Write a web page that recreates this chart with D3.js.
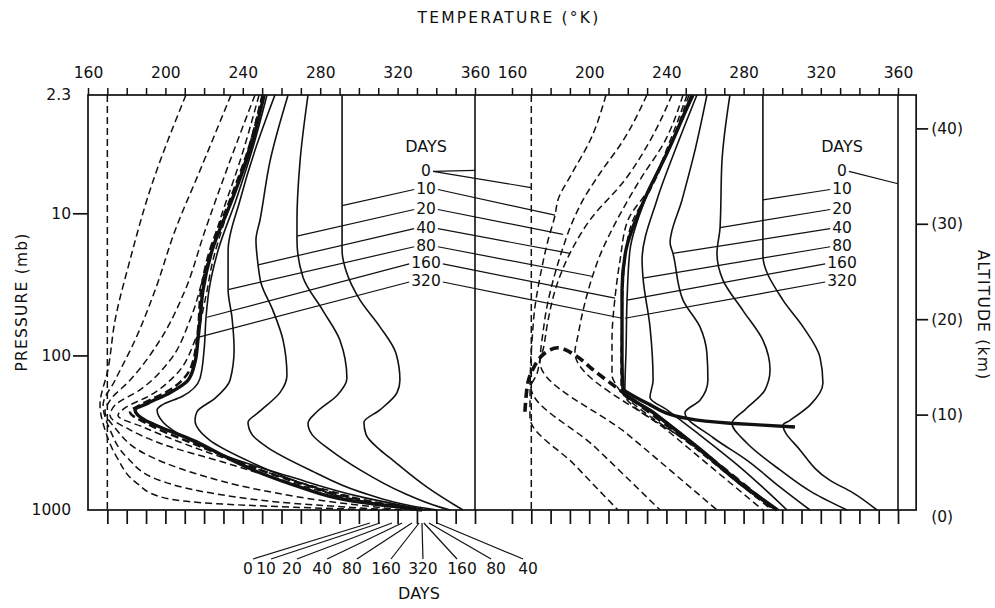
<!DOCTYPE html>
<html>
<head>
<meta charset="utf-8">
<script src="https://cdn.jsdelivr.net/npm/d3@7"></script>
<style>
  body { margin: 0; background: #fff; }
  svg text { font-family: "DejaVu Sans", sans-serif; fill: #111; }
</style>
</head>
<body>
<svg id="chart" width="995" height="608"></svg>
<script>
// Temperature profiles as [temperature (K), altitude (km)], listed from the top of the column to the ground.

// Left: pure radiative equilibrium. Warm start from 360 K isothermal.
const radWarm0 = [[360, 43.5], [360, 0]];
const radWarm10 = [[291.3,43.5],[291.3,27.2],[293.3,25.1],[300.6,22.0],[310.9,19.2],[319.2,16.4],[321.2,13.6],[319.7,12.3],[310.9,10.5],[302.6,9.2],[303.7,7.9],[310.9,6.3],[317.6,5.2],[335.2,2.4],[349.7,0.5],[353.8,0]];
const radWarm20 = [[273.7,43.5],[269.6,36.6],[268.0,30.4],[268.0,28.3],[271.1,24.4],[281.4,20.9],[290.2,17.8],[293.8,13.8],[288.7,12.0],[278.3,10.3],[273.7,9.1],[275.8,7.9],[285.1,6.3],[300.6,4.2],[322.8,1.8],[341.9,0.3],[347.1,0]];
const radWarm40 = [[263.4,43.5],[254.1,36.6],[248.9,30.4],[246.8,28.3],[247.9,25.7],[249.4,23.8],[255.6,20.9],[260.8,17.8],[262.8,14.1],[259.2,12.3],[247.9,10.2],[242.7,9.2],[244.8,7.9],[252.5,6.6],[274.7,4.2],[300.6,1.9],[328.0,0.4],[340.4,0]];
const radWarm80 = [[256.6,43.5],[246.3,37.7],[238.6,32.5],[232.4,27.2],[232.4,23.1],[234.4,20.2],[235.5,16.8],[233.4,13.6],[225.6,11.7],[216.3,10.3],[215.3,9.4],[223.0,7.3],[242.2,5.2],[276.3,2.4],[309.4,0.5],[337.3,0]];
const radWarm160 = [[252.5,43.5],[244.8,37.7],[236.5,32.5],[227.2,27.2],[222.5,23.0],[221.0,20.2],[220.0,16.8],[217.9,13.8],[208.6,11.9],[198.2,11.0],[195.7,10.5],[198.8,9.2],[210.1,7.6],[233.4,5.5],[264.4,3.5],[300.6,1.4],[334.2,0]];
const radWarm320 = [[251.0,43.5],[243.7,37.7],[234.4,32.5],[224.1,27.2],[219.4,23.0],[217.9,19.9],[216.8,17.8],[215.3,15.5],[211.7,13.6],[202.4,12.3],[191.0,11.2],[184.3,10.5],[189.5,9.4],[197.2,8.7],[214.3,7.3],[231.8,5.5],[248.9,3.9],[269.6,2.4],[295.4,1.0],[321.2,0.3],[332.6,0]];

// Left: cold start from 170 K isothermal.
const radCold0 = [[170, 43.5], [170, 0]];
const radCold10 = [[210.6,43.5],[192.0,33.5],[181.7,26.2],[174.0,19.9],[170.3,14.7],[166.2,11.0],[168.8,8.4],[175.0,5.5],[185.3,2.8],[197.2,1.4],[223.0,0.7],[265.9,0.3],[310.9,0]];
const radCold20 = [[233.9,43.5],[217.9,35.6],[205.0,29.3],[194.6,23.0],[184.3,17.8],[174.0,13.6],[167.8,11.0],[171.4,8.4],[180.2,5.5],[197.2,3.1],[223.0,1.8],[265.9,0.7],[317.6,0]];
const radCold40 = [[246.3,43.5],[233.4,36.6],[220.5,29.3],[210.1,23.0],[197.2,17.8],[181.7,13.6],[171.4,11.5],[168.8,10.3],[174.0,8.6],[188.4,6.0],[214.3,3.9],[248.9,2.1],[291.8,0.7],[322.8,0]];
const radCold80 = [[248.4,43.5],[238.6,36.6],[228.2,30.4],[220.5,25.1],[212.7,19.9],[202.4,15.7],[186.9,12.6],[174.0,11.0],[171.4,9.9],[181.7,8.4],[197.2,7.0],[231.8,4.9],[265.9,2.8],[300.6,1.0],[328.0,0]];
const radCold160 = [[249.9,43.5],[241.1,36.6],[232.4,31.4],[224.6,26.2],[220.5,22.0],[215.3,17.8],[205.0,14.1],[192.0,12.0],[179.1,10.7],[175.5,9.9],[188.4,8.7],[214.3,6.6],[248.9,4.2],[283.5,2.1],[310.9,0.7],[331.6,0]];
const radCold320 = [[250.4,43.5],[242.7,37.7],[233.4,32.5],[223.0,27.2],[218.4,23.0],[216.8,18.8],[213.7,15.2],[202.4,12.6],[186.9,11.0],[181.7,10.3],[192.0,8.9],[212.7,7.1],[238.6,5.0],[269.6,2.8],[305.7,0.9],[332.6,0]];

// Right: radiative-convective equilibrium. Warm start.
const convWarm0 = [[360, 43.5], [360, 0]];
const convWarm10 = [[290.0,43.5],[290.0,26.7],[300.4,22.0],[310.8,19.2],[319.6,16.0],[321.1,13.3],[314.4,11.0],[304.0,9.4],[300.4,8.9],[309.2,6.3],[324.8,3.1],[336.7,1.8],[349.1,0]];
const convWarm20 = [[272.9,43.5],[268.8,36.6],[267.8,29.6],[266.2,26.9],[269.3,24.1],[279.7,20.9],[290.0,17.8],[293.7,14.7],[291.1,12.6],[280.7,10.5],[274.0,9.1],[281.8,7.0],[298.9,4.2],[316.0,1.8],[333.6,0]];
const convWarm40 = [[261.0,43.5],[254.8,37.7],[248.1,32.5],[241.9,28.0],[243.4,26.9],[248.6,22.0],[257.4,19.2],[261.0,16.4],[261.5,13.6],[257.4,11.5],[249.6,10.2],[264.1,7.6],[281.8,5.2],[298.9,2.4],[314.4,0]];
const convWarm80 = [[255.8,43.5],[244.5,37.7],[235.1,32.5],[227.4,26.2],[227.9,24.3],[231.5,19.2],[233.1,13.6],[231.5,11.8],[240.3,10.5],[255.8,8.1],[278.1,4.5],[302.5,0]];
const convWarm160 = [[254.3,43.5],[240.8,37.7],[228.9,32.5],[221.1,27.2],[219.6,22.0],[219.1,16.8],[218.5,12.6],[234.1,10.2],[257.4,6.5],[278.1,3.0],[298.3,0]];
const convWarm320 = [[253.3,43.5],[241.0,37.7],[228.5,32.5],[219.0,27.2],[217.0,23.0],[217.0,20.1],[217.0,15.7],[217.5,12.6],[233.1,10.2],[255.8,6.6],[278.1,2.8],[297.3,0]];
// Tropopause of the warm-start runs
const convWarmTropopause = [[217.5,12.6],[229.9,11.2],[250.7,9.6],[272.9,9.1],[290.0,8.9],[306.6,8.7]];

// Right: cold start.
const convCold0 = [[170, 43.5], [170, 0]];
const convCold10 = [[208.7,43.5],[200.4,38.7],[191.1,35.3],[183.8,32.5],[182.3,30.9],[178.7,28.3],[174.5,24.4],[171.9,21.3],[170.4,17.8],[169.6,15.0],[169.3,9.7],[192.6,4.7],[214.9,0]];
const convCold20 = [[229.9,43.5],[217.5,38.7],[205.6,35.3],[196.8,32.5],[191.1,30.1],[186.4,27.5],[182.3,24.8],[178.1,21.3],[175.5,17.8],[173.0,14.3],[169.8,12.9],[203.0,6.6],[236.7,0]];
const convCold40 = [[242.9,43.5],[231.5,38.7],[218.5,34.6],[200.4,30.4],[190.0,26.9],[182.3,23.0],[178.7,19.9],[176.1,16.8],[174.5,15.5],[220.1,7.9],[266.2,0]];
const convCold80 = [[248.6,43.5],[239.3,38.7],[226.3,34.6],[214.4,30.4],[205.6,26.7],[201.4,24.3],[196.8,20.9],[194.2,18.3],[192.6,16.5],[241.9,8.1],[290.0,0]];
const convCold160 = [[250.7,43.5],[241.9,38.7],[230.5,33.5],[220.1,30.4],[216.0,26.2],[213.4,22.3],[211.8,17.8],[211.8,14.1],[213.4,13.3],[254.8,6.5],[294.7,0]];
const convCold320 = [[251.7,43.5],[242.9,38.7],[231.5,33.5],[222.7,30.4],[218.5,26.2],[217.0,20.2],[216.5,15.7],[216.5,12.9],[257.4,6.3],[296.8,0]];
// Tropopause of the cold-start runs
const convColdTropopause = [[166.7,10.3],[168.3,13.4],[170.9,14.8],[176.1,16.3],[183.8,17.0],[193.7,16.1],[202.0,14.7],[226.3,11.0],[257.4,6.3],[296.3,0]];

// Axis ticks
const tempTicks = d3.range(160, 361, 10);
const pressureLabels = ["2.3", "10", "100", "1000"];
const pressureKm = [43.5, 31.1, 16.2, 0];
const altitudeTicks = [0, 10, 20, 30, 40];

// Day keys
const dayNames = ["0", "10", "20", "40", "80", "160", "320"];
const dayRowKm = [35.6, 33.7, 31.6, 29.6, 27.7, 25.9, 24.0];
const keyLeftTargets  = [[360,35.6],[291.3,31.9],[268.0,28.7],[247.9,25.7],[232.4,23.1],[221.5,20.2],[216.8,18.1]];
const keyCrossTargets = [[169.8,33.8],[182.3,30.9],[186.4,28.9],[190.0,26.9],[201.4,24.5],[213.4,22.2],[217.0,20.1]];
const keyRightTargets = [[360,34.2],[290.0,32.5],[267.8,29.6],[243.4,26.9],[227.9,24.3],[219.6,22.0],[218.5,20.1]];

// Surface key below the left panel
const surfaceNames = ["0","10","20","40","80","160","320","160","80","40"];
const surfaceNameT = [242.7, 252.0, 265.4, 281.0, 296.4, 314.0, 333.1, 353.3, 370.9, 387.4];
const surfaceTickT = [305.7, 310.9, 317.1, 322.3, 327.4, 331.1, 332.6, 333.6, 336.2, 340.4];

// ---- drawing ----
const svg = d3.select("#chart");
const xL = d3.scaleLinear().domain([160, 360]).range([88, 475]);
const xR = d3.scaleLinear().domain([160, 360]).range([512, 898]);
const y = d3.scaleLinear().domain([0, 43.5]).range([510, 95]);
const frameLeft = xL(160), frameRight = xR(369.4);
const INK = "#111";

const styles = {
  thin:     { w: 1.6, dash: null },
  bold:     { w: 3.4, dash: null },
  dash:     { w: 1.5, dash: "7,4" },
  dashBold: { w: 2.5, dash: "8,4" },
  dashHeavy:{ w: 3.6, dash: "9,5" }
};

const leftSeries = [
  [radCold0,"dash"],[radCold10,"dash"],[radCold20,"dash"],[radCold40,"dash"],[radCold80,"dash"],[radCold160,"dash"],[radCold320,"dashBold"],
  [radWarm0,"thin"],[radWarm10,"thin"],[radWarm20,"thin"],[radWarm40,"thin"],[radWarm80,"thin"],[radWarm160,"thin"],[radWarm320,"bold"]
];
const rightSeries = [
  [convCold0,"dash"],[convCold10,"dash"],[convCold20,"dash"],[convCold40,"dash"],[convCold80,"dash"],[convCold160,"dash"],[convCold320,"dash"],
  [convWarm0,"thin"],[convWarm10,"thin"],[convWarm20,"thin"],[convWarm40,"thin"],[convWarm80,"thin"],[convWarm160,"thin"],[convWarm320,"bold"],
  [convWarmTropopause,"bold"]
];

function drawSeries(xs, list, curve) {
  const gen = d3.line().x(d => xs(d[0])).y(d => y(d[1])).curve(curve || d3.curveMonotoneY);
  list.forEach(([data, key]) => {
    const s = styles[key];
    svg.append("path").datum(data).attr("d", gen)
      .attr("fill", "none").attr("stroke", INK)
      .attr("stroke-width", s.w).attr("stroke-dasharray", s.dash)
      .attr("stroke-linejoin", "round");
  });
}
drawSeries(xL, leftSeries);
drawSeries(xR, rightSeries);
drawSeries(xR, [[convColdTropopause, "dashHeavy"]], d3.curveCatmullRom.alpha(0.5));

// frame
svg.append("rect").attr("x", frameLeft).attr("y", y(43.5))
  .attr("width", frameRight - frameLeft).attr("height", y(0) - y(43.5))
  .attr("fill", "none").attr("stroke", INK).attr("stroke-width", 1.7);

// temperature axes
function tempAxes(xs, bottomValues) {
  const top = svg.append("g").attr("transform", `translate(0,${y(43.5)})`)
    .call(d3.axisTop(xs).tickValues(tempTicks).tickSize(7).tickPadding(10)
      .tickFormat(d => d % 40 === 0 ? d : ""));
  top.select(".domain").remove();
  top.selectAll("line").attr("stroke", INK).attr("stroke-width", 1.5);
  top.selectAll("text").style("font-size", "15.5px").attr("fill", INK);
  const bot = svg.append("g").attr("transform", `translate(0,${y(0)})`)
    .call(d3.axisBottom(xs).tickValues(bottomValues).tickSize(14).tickFormat(""));
  bot.select(".domain").remove();
  bot.selectAll("line").attr("stroke", INK).attr("stroke-width", 1.7);
}
tempAxes(xL, tempTicks.filter(t => t >= 170));
tempAxes(xR, tempTicks);

// pressure axis
const pAx = svg.append("g").attr("transform", `translate(${frameLeft},0)`)
  .call(d3.axisLeft(y).tickValues(pressureKm).tickSize(15).tickPadding(2)
    .tickFormat((d, i) => pressureLabels[i]));
pAx.select(".domain").remove();
pAx.selectAll(".tick").each(function(d) {
  const g = d3.select(this);
  g.select("line").attr("stroke", INK).attr("stroke-width", 1.7);
  if (d === 43.5 || d === 0) g.select("line").remove();
});
pAx.selectAll("text").style("font-size", "15.5px").attr("fill", INK);

// altitude axis
const zAx = svg.append("g").attr("transform", `translate(${frameRight},0)`)
  .call(d3.axisRight(y).tickValues(altitudeTicks).tickSize(12).tickPadding(3)
    .tickFormat(d => `(${d})`));
zAx.select(".domain").remove();
zAx.selectAll(".tick").each(function(d) {
  const g = d3.select(this);
  g.select("line").attr("stroke", INK).attr("stroke-width", 1.7);
  if (d === 0) { g.select("line").remove(); g.select("text").attr("dy", "0.75em"); }
});
zAx.selectAll("text").style("font-size", "15.5px").attr("fill", INK);

// axis titles
svg.append("text").attr("x", 509).attr("y", 23).attr("text-anchor", "middle")
  .style("font-size", "15.5px").style("letter-spacing", "2.2px").text("TEMPERATURE (°K)");
svg.append("text").attr("transform", "translate(27,302) rotate(-90)").attr("text-anchor", "middle")
  .style("font-size", "15.5px").style("letter-spacing", "1.2px").text("PRESSURE (mb)");
svg.append("text").attr("transform", "translate(978,315) rotate(90)").attr("text-anchor", "middle")
  .style("font-size", "15.5px").style("letter-spacing", "1.2px").text("ALTITUDE (km)");

// day keys with leader lines
function leader(x1, y1, x2, y2) {
  svg.append("line").attr("x1", x1).attr("y1", y1).attr("x2", x2).attr("y2", y2)
    .attr("stroke", INK).attr("stroke-width", 1.2);
}
function dayKey(cx, targetSets) {
  svg.append("text").attr("x", cx).attr("y", y(38.1)).attr("dy", "0.35em")
    .attr("text-anchor", "middle").style("font-size", "16px").text("DAYS");
  dayNames.forEach((name, i) => {
    const ty = y(dayRowKm[i]);
    const t = svg.append("text").attr("x", cx).attr("y", ty).attr("dy", "0.35em")
      .attr("text-anchor", "middle").style("font-size", "15.5px").text(name);
    const half = t.node().getComputedTextLength() / 2;
    targetSets.forEach(([xs, targets]) => {
      const [T, z] = targets[i];
      const tx = xs(T), tyEnd = y(z);
      const sx = tx > cx ? cx + half + 2 : cx - half - 2;
      leader(sx, ty + 1, tx, tyEnd);
    });
  });
}
dayKey(xL(334.7), [[xL, keyLeftTargets], [xR, keyCrossTargets]]);
dayKey(xR(331), [[xR, keyRightTargets]]);

// surface key under the left panel
const labelY = y(0) + 59;
surfaceNames.forEach((name, i) => {
  const cx = xL(surfaceNameT[i]);
  svg.append("text").attr("x", cx).attr("y", labelY).attr("dy", "0.35em")
    .attr("text-anchor", "middle").style("font-size", "15.5px").text(name);
  const tx = xL(surfaceTickT[i]);
  const off = Math.abs(tx - cx) < 3 ? 0 : (tx > cx ? 5 : -5);
  leader(cx + off, labelY - 10, tx, y(0) + 13);
});
svg.append("text").attr("x", xL(333.1) - 4).attr("y", labelY + 24).attr("dy", "0.35em")
  .attr("text-anchor", "middle").style("font-size", "16px").text("DAYS");
</script>
</body>
</html>
